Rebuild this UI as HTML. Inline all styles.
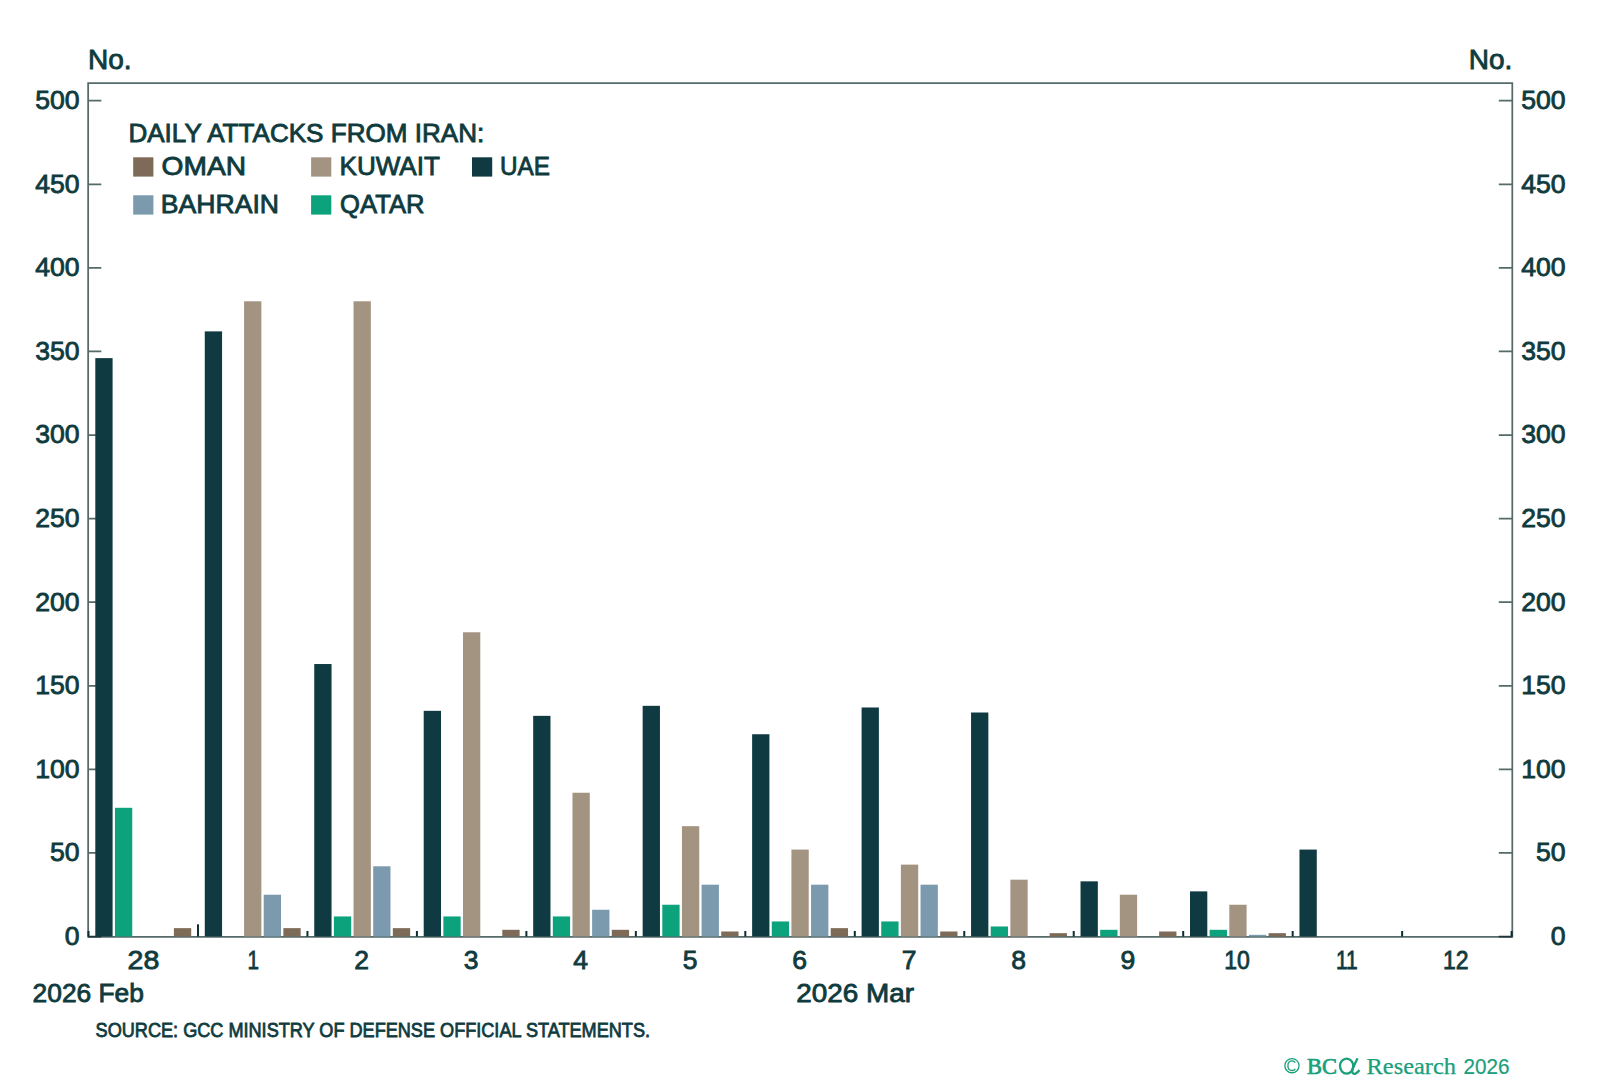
<!DOCTYPE html>
<html><head><meta charset="utf-8"><title>Daily attacks from Iran</title>
<style>html,body{margin:0;padding:0;background:#fff;width:1600px;height:1080px;overflow:hidden}svg{display:block}</style>
</head><body>
<svg width="1600" height="1080" viewBox="0 0 1600 1080">
<path d="M88.15 936.9 V83.1 H1512.3 V936.9 Z" fill="none" stroke="#566a69" stroke-width="1.75"/>
<path d="M88 936.50 H101.3 M1512.3 936.50 H1498.8" stroke="#1e3438" stroke-width="1.75"/>
<path d="M88 852.92 H101.3 M1512.3 852.92 H1498.8" stroke="#566a69" stroke-width="1.75"/>
<path d="M88 769.34 H101.3 M1512.3 769.34 H1498.8" stroke="#566a69" stroke-width="1.75"/>
<path d="M88 685.76 H101.3 M1512.3 685.76 H1498.8" stroke="#566a69" stroke-width="1.75"/>
<path d="M88 602.18 H101.3 M1512.3 602.18 H1498.8" stroke="#566a69" stroke-width="1.75"/>
<path d="M88 518.60 H101.3 M1512.3 518.60 H1498.8" stroke="#566a69" stroke-width="1.75"/>
<path d="M88 435.02 H101.3 M1512.3 435.02 H1498.8" stroke="#566a69" stroke-width="1.75"/>
<path d="M88 351.44 H101.3 M1512.3 351.44 H1498.8" stroke="#566a69" stroke-width="1.75"/>
<path d="M88 267.86 H101.3 M1512.3 267.86 H1498.8" stroke="#566a69" stroke-width="1.75"/>
<path d="M88 184.28 H101.3 M1512.3 184.28 H1498.8" stroke="#566a69" stroke-width="1.75"/>
<path d="M88 100.70 H101.3 M1512.3 100.70 H1498.8" stroke="#566a69" stroke-width="1.75"/>
<path d="M88.50 936.5 V931" stroke="#0a2c2e" stroke-width="2"/>
<path d="M197.97 936.5 V924.3" stroke="#0a2c2e" stroke-width="2"/>
<path d="M307.44 936.5 V931" stroke="#0a2c2e" stroke-width="2"/>
<path d="M416.91 936.5 V931" stroke="#0a2c2e" stroke-width="2"/>
<path d="M526.38 936.5 V931" stroke="#0a2c2e" stroke-width="2"/>
<path d="M635.85 936.5 V931" stroke="#0a2c2e" stroke-width="2"/>
<path d="M745.32 936.5 V931" stroke="#0a2c2e" stroke-width="2"/>
<path d="M854.79 936.5 V931" stroke="#0a2c2e" stroke-width="2"/>
<path d="M964.26 936.5 V931" stroke="#0a2c2e" stroke-width="2"/>
<path d="M1073.73 936.5 V931" stroke="#0a2c2e" stroke-width="2"/>
<path d="M1183.20 936.5 V931" stroke="#0a2c2e" stroke-width="2"/>
<path d="M1292.67 936.5 V931" stroke="#0a2c2e" stroke-width="2"/>
<path d="M1402.14 936.5 V931" stroke="#0a2c2e" stroke-width="2"/>
<path d="M1511.61 936.5 V931" stroke="#0a2c2e" stroke-width="2"/>
<rect x="95.30" y="358.13" width="17.3" height="578.37" fill="#0f3a42"/>
<rect x="114.95" y="807.79" width="17.3" height="128.71" fill="#0ba27c"/>
<rect x="173.90" y="928.14" width="17.3" height="8.36" fill="#7d6b58"/>
<rect x="204.77" y="331.38" width="17.3" height="605.12" fill="#0f3a42"/>
<rect x="244.07" y="301.29" width="17.3" height="635.21" fill="#a39482"/>
<rect x="263.72" y="894.71" width="17.3" height="41.79" fill="#7b9aae"/>
<rect x="283.37" y="928.14" width="17.3" height="8.36" fill="#7d6b58"/>
<rect x="314.24" y="664.03" width="17.3" height="272.47" fill="#0f3a42"/>
<rect x="333.89" y="916.44" width="17.3" height="20.06" fill="#0ba27c"/>
<rect x="353.54" y="301.29" width="17.3" height="635.21" fill="#a39482"/>
<rect x="373.19" y="866.29" width="17.3" height="70.21" fill="#7b9aae"/>
<rect x="392.84" y="928.14" width="17.3" height="8.36" fill="#7d6b58"/>
<rect x="423.71" y="710.83" width="17.3" height="225.67" fill="#0f3a42"/>
<rect x="443.36" y="916.44" width="17.3" height="20.06" fill="#0ba27c"/>
<rect x="463.01" y="632.27" width="17.3" height="304.23" fill="#a39482"/>
<rect x="502.31" y="929.81" width="17.3" height="6.69" fill="#7d6b58"/>
<rect x="533.18" y="715.85" width="17.3" height="220.65" fill="#0f3a42"/>
<rect x="552.83" y="916.44" width="17.3" height="20.06" fill="#0ba27c"/>
<rect x="572.48" y="792.74" width="17.3" height="143.76" fill="#a39482"/>
<rect x="592.13" y="909.75" width="17.3" height="26.75" fill="#7b9aae"/>
<rect x="611.78" y="929.81" width="17.3" height="6.69" fill="#7d6b58"/>
<rect x="642.65" y="705.82" width="17.3" height="230.68" fill="#0f3a42"/>
<rect x="662.30" y="904.74" width="17.3" height="31.76" fill="#0ba27c"/>
<rect x="681.95" y="826.17" width="17.3" height="110.33" fill="#a39482"/>
<rect x="701.60" y="884.68" width="17.3" height="51.82" fill="#7b9aae"/>
<rect x="721.25" y="931.49" width="17.3" height="5.01" fill="#7d6b58"/>
<rect x="752.12" y="734.24" width="17.3" height="202.26" fill="#0f3a42"/>
<rect x="771.77" y="921.46" width="17.3" height="15.04" fill="#0ba27c"/>
<rect x="791.42" y="849.58" width="17.3" height="86.92" fill="#a39482"/>
<rect x="811.07" y="884.68" width="17.3" height="51.82" fill="#7b9aae"/>
<rect x="830.72" y="928.14" width="17.3" height="8.36" fill="#7d6b58"/>
<rect x="861.59" y="707.49" width="17.3" height="229.01" fill="#0f3a42"/>
<rect x="881.24" y="921.46" width="17.3" height="15.04" fill="#0ba27c"/>
<rect x="900.89" y="864.62" width="17.3" height="71.88" fill="#a39482"/>
<rect x="920.54" y="884.68" width="17.3" height="51.82" fill="#7b9aae"/>
<rect x="940.19" y="931.49" width="17.3" height="5.01" fill="#7d6b58"/>
<rect x="971.06" y="712.51" width="17.3" height="223.99" fill="#0f3a42"/>
<rect x="990.71" y="926.47" width="17.3" height="10.03" fill="#0ba27c"/>
<rect x="1010.36" y="879.67" width="17.3" height="56.83" fill="#a39482"/>
<rect x="1049.66" y="933.16" width="17.3" height="3.34" fill="#7d6b58"/>
<rect x="1080.53" y="881.34" width="17.3" height="55.16" fill="#0f3a42"/>
<rect x="1100.18" y="929.81" width="17.3" height="6.69" fill="#0ba27c"/>
<rect x="1119.83" y="894.71" width="17.3" height="41.79" fill="#a39482"/>
<rect x="1159.13" y="931.49" width="17.3" height="5.01" fill="#7d6b58"/>
<rect x="1190.00" y="891.37" width="17.3" height="45.13" fill="#0f3a42"/>
<rect x="1209.65" y="929.81" width="17.3" height="6.69" fill="#0ba27c"/>
<rect x="1229.30" y="904.74" width="17.3" height="31.76" fill="#a39482"/>
<rect x="1248.95" y="934.83" width="17.3" height="1.67" fill="#7b9aae"/>
<rect x="1268.60" y="933.16" width="17.3" height="3.34" fill="#7d6b58"/>
<rect x="1299.47" y="849.58" width="17.3" height="86.92" fill="#0f3a42"/>
<text x="88" y="68.9" font-family="Liberation Sans" font-size="27.4" font-weight="normal" text-anchor="start" fill="#0f3b3e" stroke="#0f3b3e" stroke-width="0.85" textLength="43.6" lengthAdjust="spacingAndGlyphs">No.</text>
<text x="1468.8" y="68.9" font-family="Liberation Sans" font-size="27.4" font-weight="normal" text-anchor="start" fill="#0f3b3e" stroke="#0f3b3e" stroke-width="0.85" textLength="43.6" lengthAdjust="spacingAndGlyphs">No.</text>
<text x="79.6" y="944.9" font-family="Liberation Sans" font-size="26.6" font-weight="normal" text-anchor="end" fill="#0f3b3e" stroke="#0f3b3e" stroke-width="0.85">0</text>
<text x="1565.5" y="944.9" font-family="Liberation Sans" font-size="26.6" font-weight="normal" text-anchor="end" fill="#0f3b3e" stroke="#0f3b3e" stroke-width="0.85">0</text>
<text x="79.6" y="861.3199999999999" font-family="Liberation Sans" font-size="26.6" font-weight="normal" text-anchor="end" fill="#0f3b3e" stroke="#0f3b3e" stroke-width="0.85">50</text>
<text x="1565.5" y="861.3199999999999" font-family="Liberation Sans" font-size="26.6" font-weight="normal" text-anchor="end" fill="#0f3b3e" stroke="#0f3b3e" stroke-width="0.85">50</text>
<text x="79.6" y="777.74" font-family="Liberation Sans" font-size="26.6" font-weight="normal" text-anchor="end" fill="#0f3b3e" stroke="#0f3b3e" stroke-width="0.85">100</text>
<text x="1565.5" y="777.74" font-family="Liberation Sans" font-size="26.6" font-weight="normal" text-anchor="end" fill="#0f3b3e" stroke="#0f3b3e" stroke-width="0.85">100</text>
<text x="79.6" y="694.16" font-family="Liberation Sans" font-size="26.6" font-weight="normal" text-anchor="end" fill="#0f3b3e" stroke="#0f3b3e" stroke-width="0.85">150</text>
<text x="1565.5" y="694.16" font-family="Liberation Sans" font-size="26.6" font-weight="normal" text-anchor="end" fill="#0f3b3e" stroke="#0f3b3e" stroke-width="0.85">150</text>
<text x="79.6" y="610.58" font-family="Liberation Sans" font-size="26.6" font-weight="normal" text-anchor="end" fill="#0f3b3e" stroke="#0f3b3e" stroke-width="0.85">200</text>
<text x="1565.5" y="610.58" font-family="Liberation Sans" font-size="26.6" font-weight="normal" text-anchor="end" fill="#0f3b3e" stroke="#0f3b3e" stroke-width="0.85">200</text>
<text x="79.6" y="527.0" font-family="Liberation Sans" font-size="26.6" font-weight="normal" text-anchor="end" fill="#0f3b3e" stroke="#0f3b3e" stroke-width="0.85">250</text>
<text x="1565.5" y="527.0" font-family="Liberation Sans" font-size="26.6" font-weight="normal" text-anchor="end" fill="#0f3b3e" stroke="#0f3b3e" stroke-width="0.85">250</text>
<text x="79.6" y="443.41999999999996" font-family="Liberation Sans" font-size="26.6" font-weight="normal" text-anchor="end" fill="#0f3b3e" stroke="#0f3b3e" stroke-width="0.85">300</text>
<text x="1565.5" y="443.41999999999996" font-family="Liberation Sans" font-size="26.6" font-weight="normal" text-anchor="end" fill="#0f3b3e" stroke="#0f3b3e" stroke-width="0.85">300</text>
<text x="79.6" y="359.84000000000003" font-family="Liberation Sans" font-size="26.6" font-weight="normal" text-anchor="end" fill="#0f3b3e" stroke="#0f3b3e" stroke-width="0.85">350</text>
<text x="1565.5" y="359.84000000000003" font-family="Liberation Sans" font-size="26.6" font-weight="normal" text-anchor="end" fill="#0f3b3e" stroke="#0f3b3e" stroke-width="0.85">350</text>
<text x="79.6" y="276.26" font-family="Liberation Sans" font-size="26.6" font-weight="normal" text-anchor="end" fill="#0f3b3e" stroke="#0f3b3e" stroke-width="0.85">400</text>
<text x="1565.5" y="276.26" font-family="Liberation Sans" font-size="26.6" font-weight="normal" text-anchor="end" fill="#0f3b3e" stroke="#0f3b3e" stroke-width="0.85">400</text>
<text x="79.6" y="192.67999999999998" font-family="Liberation Sans" font-size="26.6" font-weight="normal" text-anchor="end" fill="#0f3b3e" stroke="#0f3b3e" stroke-width="0.85">450</text>
<text x="1565.5" y="192.67999999999998" font-family="Liberation Sans" font-size="26.6" font-weight="normal" text-anchor="end" fill="#0f3b3e" stroke="#0f3b3e" stroke-width="0.85">450</text>
<text x="79.6" y="109.10000000000005" font-family="Liberation Sans" font-size="26.6" font-weight="normal" text-anchor="end" fill="#0f3b3e" stroke="#0f3b3e" stroke-width="0.85">500</text>
<text x="1565.5" y="109.10000000000005" font-family="Liberation Sans" font-size="26.6" font-weight="normal" text-anchor="end" fill="#0f3b3e" stroke="#0f3b3e" stroke-width="0.85">500</text>
<text x="143.54" y="969.4" font-family="Liberation Sans" font-size="26.5" font-weight="normal" text-anchor="middle" fill="#0f3b3e" stroke="#0f3b3e" stroke-width="0.85" textLength="31.8" lengthAdjust="spacingAndGlyphs">28</text>
<text x="253.20" y="969.4" font-family="Liberation Sans" font-size="26.5" font-weight="normal" text-anchor="middle" fill="#0f3b3e" stroke="#0f3b3e" stroke-width="0.85" textLength="11.5" lengthAdjust="spacingAndGlyphs">1</text>
<text x="361.68" y="969.4" font-family="Liberation Sans" font-size="26.5" font-weight="normal" text-anchor="middle" fill="#0f3b3e" stroke="#0f3b3e" stroke-width="0.85">2</text>
<text x="471.14" y="969.4" font-family="Liberation Sans" font-size="26.5" font-weight="normal" text-anchor="middle" fill="#0f3b3e" stroke="#0f3b3e" stroke-width="0.85">3</text>
<text x="580.62" y="969.4" font-family="Liberation Sans" font-size="26.5" font-weight="normal" text-anchor="middle" fill="#0f3b3e" stroke="#0f3b3e" stroke-width="0.85">4</text>
<text x="690.09" y="969.4" font-family="Liberation Sans" font-size="26.5" font-weight="normal" text-anchor="middle" fill="#0f3b3e" stroke="#0f3b3e" stroke-width="0.85">5</text>
<text x="799.55" y="969.4" font-family="Liberation Sans" font-size="26.5" font-weight="normal" text-anchor="middle" fill="#0f3b3e" stroke="#0f3b3e" stroke-width="0.85">6</text>
<text x="909.02" y="969.4" font-family="Liberation Sans" font-size="26.5" font-weight="normal" text-anchor="middle" fill="#0f3b3e" stroke="#0f3b3e" stroke-width="0.85">7</text>
<text x="1018.50" y="969.4" font-family="Liberation Sans" font-size="26.5" font-weight="normal" text-anchor="middle" fill="#0f3b3e" stroke="#0f3b3e" stroke-width="0.85">8</text>
<text x="1127.96" y="969.4" font-family="Liberation Sans" font-size="26.5" font-weight="normal" text-anchor="middle" fill="#0f3b3e" stroke="#0f3b3e" stroke-width="0.85">9</text>
<text x="1237.13" y="969.4" font-family="Liberation Sans" font-size="26.5" font-weight="normal" text-anchor="middle" fill="#0f3b3e" stroke="#0f3b3e" stroke-width="0.85" textLength="25.6" lengthAdjust="spacingAndGlyphs">10</text>
<text x="1346.90" y="969.4" font-family="Liberation Sans" font-size="26.5" font-weight="normal" text-anchor="middle" fill="#0f3b3e" stroke="#0f3b3e" stroke-width="0.85" textLength="21.8" lengthAdjust="spacingAndGlyphs">11</text>
<text x="1455.78" y="969.4" font-family="Liberation Sans" font-size="26.5" font-weight="normal" text-anchor="middle" fill="#0f3b3e" stroke="#0f3b3e" stroke-width="0.85" textLength="25.6" lengthAdjust="spacingAndGlyphs">12</text>
<text x="32.6" y="1002.4" font-family="Liberation Sans" font-size="26.3" font-weight="normal" text-anchor="start" fill="#0f3b3e" stroke="#0f3b3e" stroke-width="0.85" textLength="111.3" lengthAdjust="spacingAndGlyphs">2026 Feb</text>
<text x="796.3" y="1002.4" font-family="Liberation Sans" font-size="26.3" font-weight="normal" text-anchor="start" fill="#0f3b3e" stroke="#0f3b3e" stroke-width="0.85" textLength="117.7" lengthAdjust="spacingAndGlyphs">2026 Mar</text>
<text x="95.6" y="1036.6" font-family="Liberation Sans" font-size="20.5" font-weight="normal" text-anchor="start" fill="#0f3b3e" stroke="#0f3b3e" stroke-width="0.8" textLength="554.4" lengthAdjust="spacingAndGlyphs">SOURCE: GCC MINISTRY OF DEFENSE OFFICIAL STATEMENTS.</text>
<circle cx="1291.95" cy="1065.65" r="7.1" fill="none" stroke="#19a07b" stroke-width="1.3"/>
<path d="M1295.3 1062.6 C1294.4 1061.2 1293.3 1060.8 1292.1 1060.8 C1289.4 1060.8 1287.9 1063 1287.9 1065.7 C1287.9 1068.4 1289.4 1070.5 1292.1 1070.5 C1293.4 1070.5 1294.6 1070 1295.4 1068.8" fill="none" stroke="#19a07b" stroke-width="1.3"/>
<text x="1307.0" y="1074.2" font-family="Liberation Serif" font-size="22.4" font-weight="normal" text-anchor="start" fill="#19a07b" stroke="#19a07b" stroke-width="0.7" textLength="30.0" lengthAdjust="spacingAndGlyphs">BC</text>
<ellipse cx="1346.6" cy="1066.1" rx="6.6" ry="7.5" fill="none" stroke="#19a07b" stroke-width="2.3"/>
<path d="M1357.6 1058.3 C1355.2 1063 1352.6 1069 1352.2 1071 C1352 1073.2 1353.6 1074.2 1355.4 1073.6 C1357 1073 1358.4 1071.6 1359.5 1070" fill="none" stroke="#19a07b" stroke-width="2.3"/>
<text x="1366.5" y="1074.2" font-family="Liberation Serif" font-size="22.8" font-weight="normal" text-anchor="start" fill="#19a07b" stroke="#19a07b" stroke-width="0.25" textLength="89.5" lengthAdjust="spacingAndGlyphs">Research</text>
<text x="1463.6" y="1074.2" font-family="Liberation Sans" font-size="21.2" font-weight="normal" text-anchor="start" fill="#19a07b" stroke="#19a07b" stroke-width="0.2" textLength="46" lengthAdjust="spacingAndGlyphs">2026</text>
<text x="128.4" y="141.6" font-family="Liberation Sans" font-size="25.7" font-weight="normal" text-anchor="start" fill="#0f3b3e" stroke="#0f3b3e" stroke-width="0.85" textLength="355.9" lengthAdjust="spacingAndGlyphs">DAILY ATTACKS FROM IRAN:</text>
<rect x="133.2" y="157.3" width="20.2" height="19.3" fill="#7d6b58"/>
<text x="161.6" y="174.70000000000002" font-family="Liberation Sans" font-size="26" font-weight="normal" text-anchor="start" fill="#0f3b3e" stroke="#0f3b3e" stroke-width="0.85" textLength="84.4" lengthAdjust="spacingAndGlyphs">OMAN</text>
<rect x="311.1" y="157.3" width="20.2" height="19.3" fill="#a39482"/>
<text x="339.5" y="174.70000000000002" font-family="Liberation Sans" font-size="26" font-weight="normal" text-anchor="start" fill="#0f3b3e" stroke="#0f3b3e" stroke-width="0.85" textLength="100.4" lengthAdjust="spacingAndGlyphs">KUWAIT</text>
<rect x="472" y="157.3" width="20.2" height="19.3" fill="#0f3a42"/>
<text x="499.9" y="174.70000000000002" font-family="Liberation Sans" font-size="26" font-weight="normal" text-anchor="start" fill="#0f3b3e" stroke="#0f3b3e" stroke-width="0.85" textLength="50.0" lengthAdjust="spacingAndGlyphs">UAE</text>
<rect x="133.2" y="195.3" width="20.2" height="19.3" fill="#7b9aae"/>
<text x="160.8" y="212.70000000000002" font-family="Liberation Sans" font-size="26" font-weight="normal" text-anchor="start" fill="#0f3b3e" stroke="#0f3b3e" stroke-width="0.85" textLength="118.2" lengthAdjust="spacingAndGlyphs">BAHRAIN</text>
<rect x="311.1" y="195.3" width="20.2" height="19.3" fill="#0ba27c"/>
<text x="340" y="212.70000000000002" font-family="Liberation Sans" font-size="26" font-weight="normal" text-anchor="start" fill="#0f3b3e" stroke="#0f3b3e" stroke-width="0.85" textLength="84.5" lengthAdjust="spacingAndGlyphs">QATAR</text>
</svg>
</body></html>
